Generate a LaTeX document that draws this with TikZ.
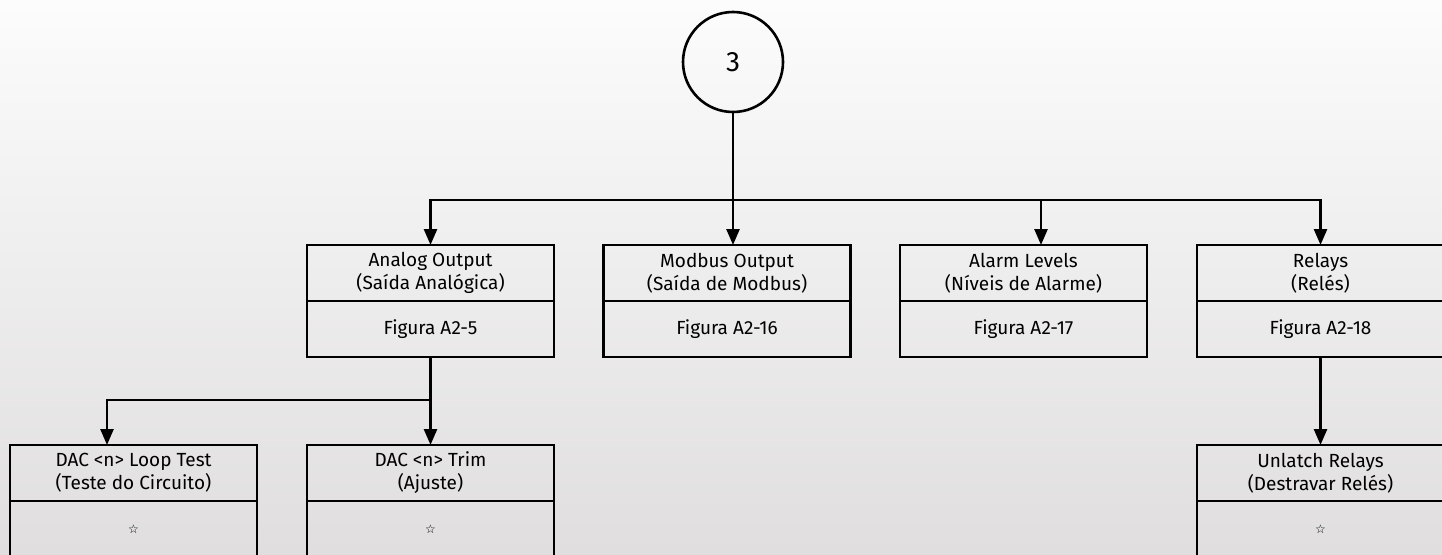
\documentclass[tikz,border=0pt]{standalone}
\usepackage{fontspec}
\setmainfont{Fira Sans}
\newfontfamily\symfont{DejaVu Sans}
\usepackage{tikz}
\usetikzlibrary{arrows.meta,shapes,positioning}
\usepackage{xcolor}
\definecolor{bgtop}{RGB}{252,252,252}
\definecolor{bgbot}{RGB}{224,222,223}
\tikzstyle{arrow} = [line width=2.6pt,-{Triangle[length=16pt,width=13pt]},color=black]
\tikzstyle{headbox} = [draw,line width=2.6pt,outer sep=0pt,minimum width=247pt,minimum height=56pt,inner sep=0pt,align=center,font=\fontsize{19}{23}\selectfont]
\tikzstyle{bodybox} = [headbox]
\newcommand{\starmark}{{\symfont\fontsize{12}{12}\selectfont ☆}}

\begin{document}
\begin{tikzpicture}[x=1pt,y=-1pt]
\useasboundingbox (0,0) rectangle (1442,554);
\shade[top color=bgtop,bottom color=bgbot] (0,0) rectangle (1442,554);

% start marker
\node[draw,circle,line width=2.6pt,minimum size=100pt,inner sep=0pt,font=\fontsize{28}{30}\selectfont] (start) at (733,62) {3};

% first level
\node[headbox] (ana) at (430.5,273) {Analog Output\\(Saída Analógica)};
\node[bodybox,below=0pt of ana] (anab) {Figura A2-5};
\node[headbox] (mod) at (727,273) {Modbus Output\\(Saída de Modbus)};
\node[bodybox,below=0pt of mod] (modb) {Figura A2-16};
\node[headbox] (alm) at (1023.5,273) {Alarm Levels\\(Níveis de Alarme)};
\node[bodybox,below=0pt of alm] (almb) {Figura A2-17};
\node[headbox] (rel) at (1320.5,273) {Relays\\(Relés)};
\node[bodybox,below=0pt of rel] (relb) {Figura A2-18};

% second level
\node[headbox] (loop) at (133.5,473) {DAC <n> Loop Test\\(Teste do Circuito)};
\node[bodybox,below=0pt of loop] (loopb) {\starmark};
\node[headbox] (trim) at (430.5,473) {DAC <n> Trim\\(Ajuste)};
\node[bodybox,below=0pt of trim] (trimb) {\starmark};
\node[headbox] (unl) at (1320.5,473) {Unlatch Relays\\(Destravar Relés)};
\node[bodybox,below=0pt of unl] (unlb) {\starmark};

% connectors
\coordinate (bus) at (733,200);
\coordinate (sub) at (430,400);
\draw[arrow] (start.south) -- (start.south |- mod.north);
\draw[arrow] (bus) -| (ana.north);
\draw[arrow] (bus) -| ([xshift=17.5pt]alm.north);
\draw[arrow] (bus) -| (rel.north);
\draw[arrow] (anab.south) -- (trim.north);
\draw[arrow] (sub) -| ([xshift=-26.5pt]loop.north);
\draw[arrow] (relb.south) -- (unl.north);
\end{tikzpicture}
\end{document}
